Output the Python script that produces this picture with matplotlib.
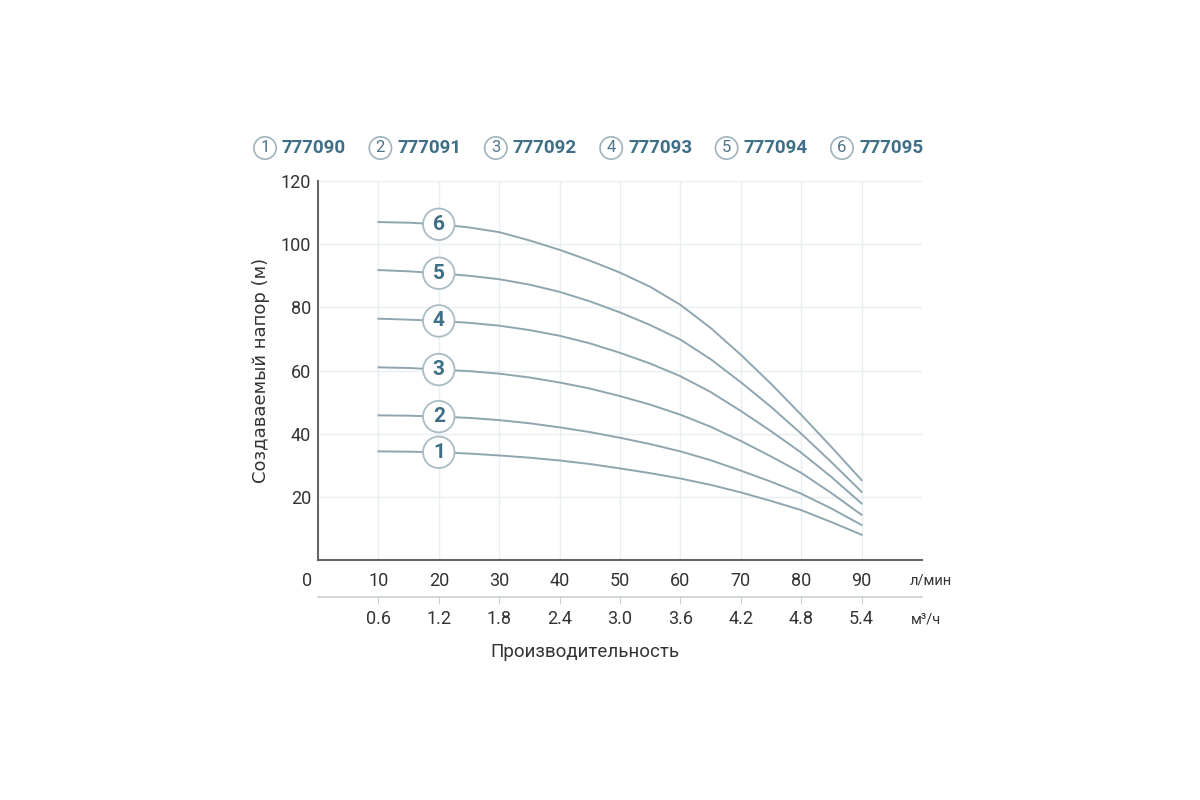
import numpy as np
import matplotlib
matplotlib.use("Agg")
import matplotlib.pyplot as plt

plt.rcParams['font.family'] = ['Roboto', 'DejaVu Sans']

# flow, l/min
flow = [10, 15, 20, 25, 30, 35, 40, 45, 50, 55, 60, 65, 70, 75, 80, 85, 90]
# head (m) for each pump model
head_1 = [34.4, 34.3, 34.1, 33.7, 33.1, 32.4, 31.5, 30.4, 29.0, 27.5, 25.8,
          23.8, 21.4, 18.7, 15.8, 12.0, 8.0]
head_2 = [45.8, 45.7, 45.4, 45.0, 44.3, 43.3, 42.0, 40.5, 38.7, 36.7, 34.4,
          31.6, 28.3, 24.8, 21.0, 16.3, 11.1]
head_3 = [61.0, 60.8, 60.3, 59.8, 59.0, 57.8, 56.2, 54.3, 51.9, 49.2, 46.0,
          42.2, 37.7, 32.8, 27.6, 21.2, 14.3]
head_4 = [76.4, 76.1, 75.7, 75.1, 74.2, 72.8, 71.0, 68.6, 65.6, 62.2, 58.2,
          53.2, 47.2, 40.8, 34.0, 26.3, 17.9]
head_5 = [91.8, 91.4, 90.8, 90.0, 88.9, 87.2, 84.9, 81.9, 78.4, 74.4, 69.8,
          63.6, 56.3, 48.5, 40.0, 31.0, 21.6]
head_6 = [107.0, 106.8, 106.3, 105.3, 103.8, 101.2, 98.2, 94.8, 91.0, 86.5, 80.8,
          73.5, 65.0, 55.8, 46.0, 35.8, 25.3]
heads = [head_1, head_2, head_3, head_4, head_5, head_6]

models = ['777090', '777091', '777092', '777093', '777094', '777095']
lpm_ticks = [10, 20, 30, 40, 50, 60, 70, 80, 90]
m3h_labels = ['0.6', '1.2', '1.8', '2.4', '3.0', '3.6', '4.2', '4.8', '5.4']
y_ticks = [20, 40, 60, 80, 100, 120]
label_at = 20  # flow where the circled numbers sit

curve_col = '#8fa6b1'
grid_col = '#e9eef0'
num_col = '#3f6f86'
text_col = '#333333'

fig = plt.figure(figsize=(12, 8), dpi=100)
ax = fig.add_axes([0.265, 0.30, 0.5033, 0.47375])
ax.set_xlim(0, 100)
ax.set_ylim(0, 120)

# grid
for x in lpm_ticks:
    ax.axvline(x, color=grid_col, lw=1, zorder=0)
for y in y_ticks:
    ax.axhline(y, color=grid_col, lw=1, zorder=0)

for i, h in enumerate(heads):
    ax.plot(flow, h, color=curve_col, lw=1.4, zorder=2)
    ax.text(label_at, h[flow.index(label_at)], str(i + 1), ha='center', va='center',
            fontsize=15, fontweight='bold', color=num_col, zorder=3,
            bbox=dict(boxstyle='circle,pad=0.3', fc='white', ec='#a9bcc5', lw=1.3))

for s in ['top', 'right']:
    ax.spines[s].set_visible(False)
for s in ['left', 'bottom']:
    ax.spines[s].set_color('#666666')
    ax.spines[s].set_linewidth(1.5)

ax.set_yticks(y_ticks)
ax.set_yticklabels([str(v) for v in y_ticks], fontsize=13, color=text_col)
ax.set_xticks(lpm_ticks)
ax.set_xticklabels([str(v) for v in lpm_ticks], fontsize=13, color=text_col)
ax.tick_params(axis='both', length=0)
ax.tick_params(axis='x', pad=9)
ax.tick_params(axis='y', pad=5)

ax.annotate('0', xy=(0, 0), xytext=(-8, -9), textcoords='offset points',
            ha='center', va='top', fontsize=13, color=text_col)
ax.annotate('л/мин', xy=(1, 0), xycoords='axes fraction', xytext=(-9, -10),
            textcoords='offset points', ha='left', va='top', fontsize=10.5, color=text_col)

ax.set_ylabel('Создаваемый напор (м)', fontsize=13, color=text_col,
              family=['DejaVu Sans'], labelpad=8)

# second scale, m3/h
ax2 = fig.add_axes([0.265, 0.25375, 0.5033, 0.001])
ax2.set_xlim(0, 100)
ax2.set_yticks([])
for s in ['top', 'right', 'left']:
    ax2.spines[s].set_visible(False)
ax2.spines['bottom'].set_color('#c8cfd3')
ax2.spines['bottom'].set_linewidth(1.2)
ax2.set_xticks(lpm_ticks)
ax2.set_xticklabels(m3h_labels, fontsize=13, color=text_col)
ax2.tick_params(axis='x', length=5, color='#c8cfd3', pad=4)
ax2.annotate('м³/ч', xy=(1, 0), xycoords='axes fraction', xytext=(-8, -11),
             textcoords='offset points', ha='left', va='top', fontsize=10.5, color=text_col)

fig.text(0.4875, 0.185, 'Производительность', ha='center', va='center',
         fontsize=13.5, color=text_col)

# legend row
for i, m in enumerate(models):
    cx = (265 + i * 115.4) / 1200
    fig.text(cx, 0.815, str(i + 1), ha='center', va='center', fontsize=12,
             color='#4d7488',
             bbox=dict(boxstyle='circle,pad=0.22', fc='white', ec='#9fb3bd', lw=1.2))
    fig.text(cx + 17 / 1200, 0.815, m, ha='left', va='center', fontsize=13.5,
             fontweight='bold', color=num_col)

fig.savefig('out.png', dpi=100, facecolor='white')
